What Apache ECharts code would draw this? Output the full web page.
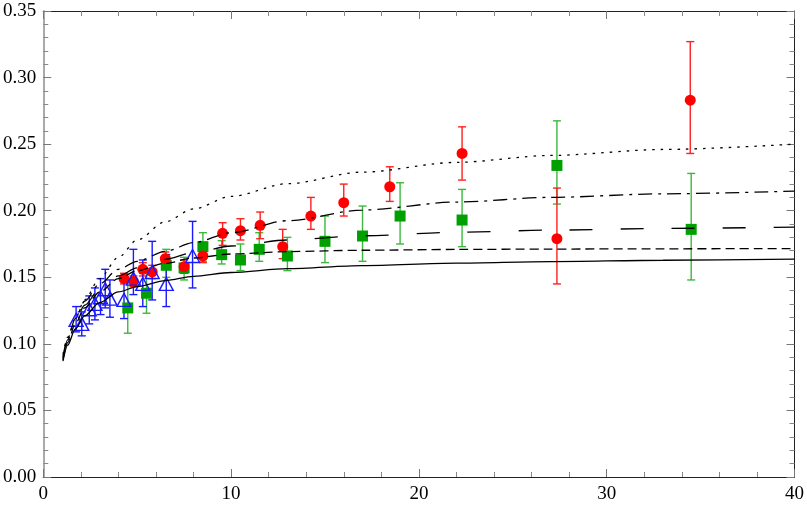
<!DOCTYPE html>
<html>
<head>
<meta charset="utf-8">
<script src="https://cdn.jsdelivr.net/npm/echarts@6/dist/echarts.min.js"></script>
<style>
  html, body { margin: 0; padding: 0; background: #fff; }
  #chart { width: 807px; height: 506px; }
</style>
</head>
<body>
<div id="chart"></div>
<script>
// measured points (x, value, lower, upper)
const blueX  = [1.75, 2.05, 2.45, 2.75, 3.05, 3.3, 3.55, 4.3, 4.8, 5.3, 5.8, 6.55, 7.95]
const blueY  = [0.118, 0.115, 0.126, 0.130, 0.135, 0.141, 0.134, 0.133, 0.149, 0.145, 0.154, 0.145, 0.166]
const blueLo = [0.109, 0.106, 0.115, 0.118, 0.122, 0.127, 0.120, 0.119, 0.137, 0.128, 0.133, 0.128, 0.142]
const blueHi = [0.128, 0.124, 0.136, 0.142, 0.149, 0.156, 0.148, 0.148, 0.171, 0.163, 0.177, 0.167, 0.192]

const redX  = [4.3, 4.8, 5.3, 5.8, 6.5, 7.5, 8.5, 9.55, 10.5, 11.55, 12.75, 14.25, 16.0, 18.45, 22.3, 27.35, 34.45]
const redY  = [0.149, 0.147, 0.156, 0.154, 0.164, 0.158, 0.166, 0.183, 0.185, 0.189, 0.173, 0.196, 0.206, 0.218, 0.243, 0.179, 0.283]
const redLo = [0.145, 0.143, 0.151, 0.149, 0.159, 0.153, 0.161, 0.174, 0.178, 0.179, 0.164, 0.186, 0.196, 0.207, 0.223, 0.145, 0.243]
const redHi = [0.153, 0.151, 0.161, 0.159, 0.169, 0.163, 0.171, 0.191, 0.194, 0.199, 0.186, 0.210, 0.220, 0.233, 0.263, 0.217, 0.327]

const greenX  = [4.5, 5.5, 6.55, 7.5, 8.5, 9.5, 10.5, 11.5, 13.0, 15.0, 17.0, 19.0, 22.3, 27.35, 34.5]
const greenY  = [0.127, 0.138, 0.159, 0.157, 0.173, 0.167, 0.163, 0.171, 0.166, 0.177, 0.181, 0.196, 0.193, 0.234, 0.186]
const greenLo = [0.108, 0.123, 0.150, 0.148, 0.162, 0.160, 0.155, 0.162, 0.155, 0.161, 0.162, 0.175, 0.173, 0.205, 0.148]
const greenHi = [0.147, 0.155, 0.171, 0.165, 0.1835, 0.1775, 0.175, 0.1835, 0.180, 0.196, 0.2035, 0.221, 0.216, 0.2675, 0.228]

// model curves
const curveX    = [1.05, 1.3, 1.7, 2.2, 3, 4, 5, 6.5, 8, 10, 13, 17, 22, 27, 33, 40]
const solidY    = [0.087, 0.099, 0.111, 0.121, 0.131, 0.139, 0.143, 0.1475, 0.1507, 0.1536, 0.1565, 0.1588, 0.1606, 0.1618, 0.1628, 0.1637]
const shortY    = [0.088, 0.101, 0.115, 0.127, 0.139, 0.149, 0.155, 0.1605, 0.1645, 0.1675, 0.1693, 0.1703, 0.1709, 0.1712, 0.1714, 0.1716]
const longY     = [0.089, 0.103, 0.117, 0.129, 0.141, 0.151, 0.157, 0.1635, 0.1685, 0.1735, 0.178, 0.1812, 0.1838, 0.1854, 0.1867, 0.1877]
const dashDotY  = [0.090, 0.104, 0.119, 0.132, 0.145, 0.156, 0.162, 0.1695, 0.176, 0.1835, 0.1925, 0.2005, 0.2065, 0.2100, 0.2127, 0.2147]
const dottedY   = [0.092, 0.105, 0.119, 0.133, 0.149, 0.165, 0.178, 0.1917, 0.2014, 0.2107, 0.2203, 0.229, 0.2363, 0.2415, 0.246, 0.250]

const xTicks = [0, 10, 20, 30, 40]
const yTicks = [0, 0.05, 0.10, 0.15, 0.20, 0.25, 0.30, 0.35]

const zip = (xs, ys) => xs.map((x, i) => [x, ys[i]])
const zip3 = (xs, lo, hi) => xs.map((x, i) => [x, lo[i], hi[i]])

const FONT = 'Liberation Serif'

function errorBars(data, color, z) {
  return {
    type: 'custom',
    data: data,
    z: z,
    encode: { x: 0, y: [1, 2] },
    silent: true,
    renderItem: function(params, api) {
      const x = api.value(0)
      const lo = api.coord([x, api.value(1)])
      const hi = api.coord([x, api.value(2)])
      const w = 4
      const style = { stroke: color, lineWidth: 1.4, fill: null }
      return {
        type: 'group',
        children: [
          { type: 'line', shape: { x1: lo[0], y1: lo[1], x2: hi[0], y2: hi[1] }, style: style },
          { type: 'line', shape: { x1: lo[0] - w, y1: lo[1], x2: lo[0] + w, y2: lo[1] }, style: style },
          { type: 'line', shape: { x1: hi[0] - w, y1: hi[1], x2: hi[0] + w, y2: hi[1] }, style: style }
        ]
      }
    }
  }
}

function curve(ys, dash) {
  return {
    type: 'line',
    data: zip(curveX, ys),
    showSymbol: false,
    smooth: 0.3,
    smoothMonotone: 'x',
    z: 10,
    silent: true,
    lineStyle: { color: '#000', width: 1.3, type: dash }
  }
}

function axis(extra, lineColor, lineWidth) {
  return Object.assign({
    type: 'value',
    axisLine: { show: true, onZero: false, lineStyle: { color: lineColor, width: lineWidth } },
    splitLine: { show: false },
    axisTick: { show: true, inside: true, length: 8, lineStyle: { color: '#777', width: 1 } },
    minorTick: { show: true, splitNumber: 5, length: 5, lineStyle: { color: '#888', width: 1 } },
    minorSplitLine: { show: false }
  }, extra)
}

const chart = echarts.init(document.getElementById('chart'), null, { renderer: 'canvas' })
chart.setOption({
  animation: false,
  backgroundColor: '#fff',
  textStyle: { fontFamily: FONT },
  grid: { left: 41, right: 11, top: 11, bottom: 29, containLabel: false },
  xAxis: [
    axis({
      min: xTicks[0], max: xTicks[xTicks.length - 1], interval: 10, position: 'bottom',
      axisLabel: { show: true, color: '#000', fontFamily: FONT, fontSize: 19, margin: 8,
        showMinLabel: true, showMaxLabel: true }
    }, '#222', 1),
    axis({
      min: xTicks[0], max: xTicks[xTicks.length - 1], interval: 10, position: 'top',
      axisLabel: { show: false }
    }, '#222', 1)
  ],
  yAxis: [
    axis({
      min: yTicks[0], max: yTicks[yTicks.length - 1], interval: 0.05, position: 'left',
      axisLabel: { show: true, color: '#000', fontFamily: FONT, fontSize: 19, margin: 7,
        formatter: v => v.toFixed(2), showMinLabel: true, showMaxLabel: true }
    }, '#aaa', 2),
    axis({
      min: yTicks[0], max: yTicks[yTicks.length - 1], interval: 0.05, position: 'right',
      axisLabel: { show: false }
    }, '#222', 1)
  ],
  series: [
    errorBars(zip3(greenX, greenLo, greenHi), '#3cb83c', 2),
    errorBars(zip3(redX, redLo, redHi), '#ff2020', 3),
    errorBars(zip3(blueX, blueLo, blueHi), '#1a1aff', 4),
    {
      type: 'scatter', data: zip(greenX, greenY), symbol: 'rect', symbolSize: 11, z: 5,
      itemStyle: { color: '#00a000', opacity: 1 }
    },
    {
      type: 'scatter', data: zip(redX, redY), symbol: 'circle', symbolSize: 11, z: 6,
      itemStyle: { color: '#ff0000', opacity: 1 }
    },
    {
      type: 'scatter', data: zip(blueX, blueY), symbol: 'triangle', symbolSize: [14, 13], z: 7,
      itemStyle: { color: 'rgba(0,0,0,0)', borderColor: '#1a1aff', borderWidth: 1.4, opacity: 1 }
    },
    curve(solidY, 'solid'),
    curve(shortY, [9, 5]),
    curve(longY, [23, 28]),
    curve(dashDotY, [14, 6, 3, 6]),
    curve(dottedY, [2.5, 6])
  ]
})
</script>
</body>
</html>
